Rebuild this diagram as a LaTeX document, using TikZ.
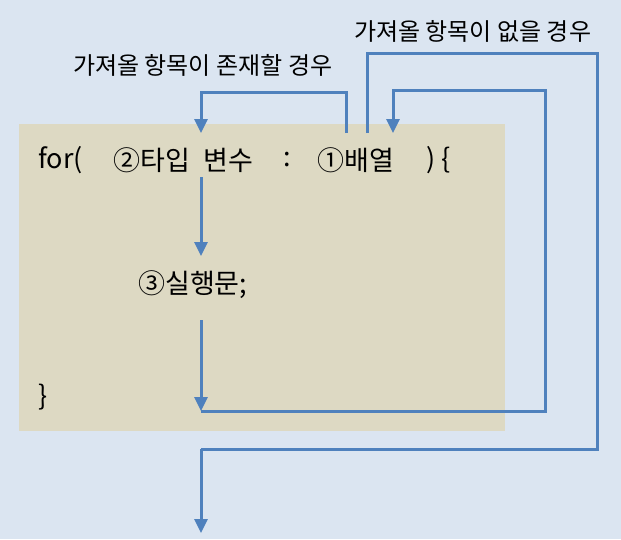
\documentclass[tikz,border=0pt]{standalone}
\usepackage{fontspec}
\setmainfont{Noto Sans CJK KR}
\usepackage{tikz}
\usetikzlibrary{positioning,arrows.meta,calc}
\definecolor{loopSky}{HTML}{DBE5F1}
\definecolor{loopSand}{HTML}{DDD9C3}
\definecolor{loopBlue}{HTML}{4F81BD}
\tikzset{
  codetext/.style={anchor=west,inner sep=0pt,font=\fontsize{27}{30}\selectfont,text=black},
  pathlabel/.style={anchor=west,inner sep=0pt,font=\fontsize{24}{27}\selectfont,text=black},
  flowline/.style={draw=loopBlue,line width=3pt},
  flowarrow/.style={flowline,-{Triangle[length=14pt,width=13pt]}}
}
\begin{document}
\begin{tikzpicture}[x=1pt,y=-1pt]
    \useasboundingbox (0,0) rectangle (621,539);
    \fill[loopSky] (0,0) rectangle (621,539);
    \fill[loopSand] (19,124) rectangle (505,431);
    \node[codetext] (forkw) at (38,160) {for(};
    \node[codetext] (typevar) at (113,160) {②타입\hspace{0.5em}변수};
    \node[codetext] (colon) at (283,160) {:};
    \node[codetext] (arrname) at (317,160) {①배열};
    \node[codetext] (closing) at (426,160) {) \{};
    \node[codetext] (execstmt) at (138,285) {③실행문;};
    \node[codetext] (endbrace) at (38,397) {\}};
    \node[pathlabel] (haslabel) at (73,65) {가져올 항목이 존재할 경우};
    \node[pathlabel] (nonelabel) at (354,31) {가져올 항목이 없을 경우};
    \coordinate (nextout) at (346,133);
    \coordinate (typein) at (201,133);
    \coordinate (typeout) at (201,177);
    \coordinate (execin) at (201,256);
    \coordinate (execout) at (201,320);
    \coordinate (loopend) at (201,411);
    \coordinate (arrin) at (393,133);
    \coordinate (exitout) at (367,133);
    \coordinate (exitdown) at (201,449);
    \coordinate (finish) at (201,533);
    \draw[flowarrow] (nextout) -- ++(0,-41) -| (typein);
    \draw[flowarrow] (typeout) -- (execin);
    \draw[flowarrow] (execout) -- (loopend);
    \draw[flowarrow] (loopend) -- (545,411) -- (545,90) -| (arrin);
    \draw[flowline] (exitout) -- (367,53) -- (597,53) |- (exitdown);
    \draw[flowarrow] (exitdown) -- (finish);
\end{tikzpicture}
\end{document}
